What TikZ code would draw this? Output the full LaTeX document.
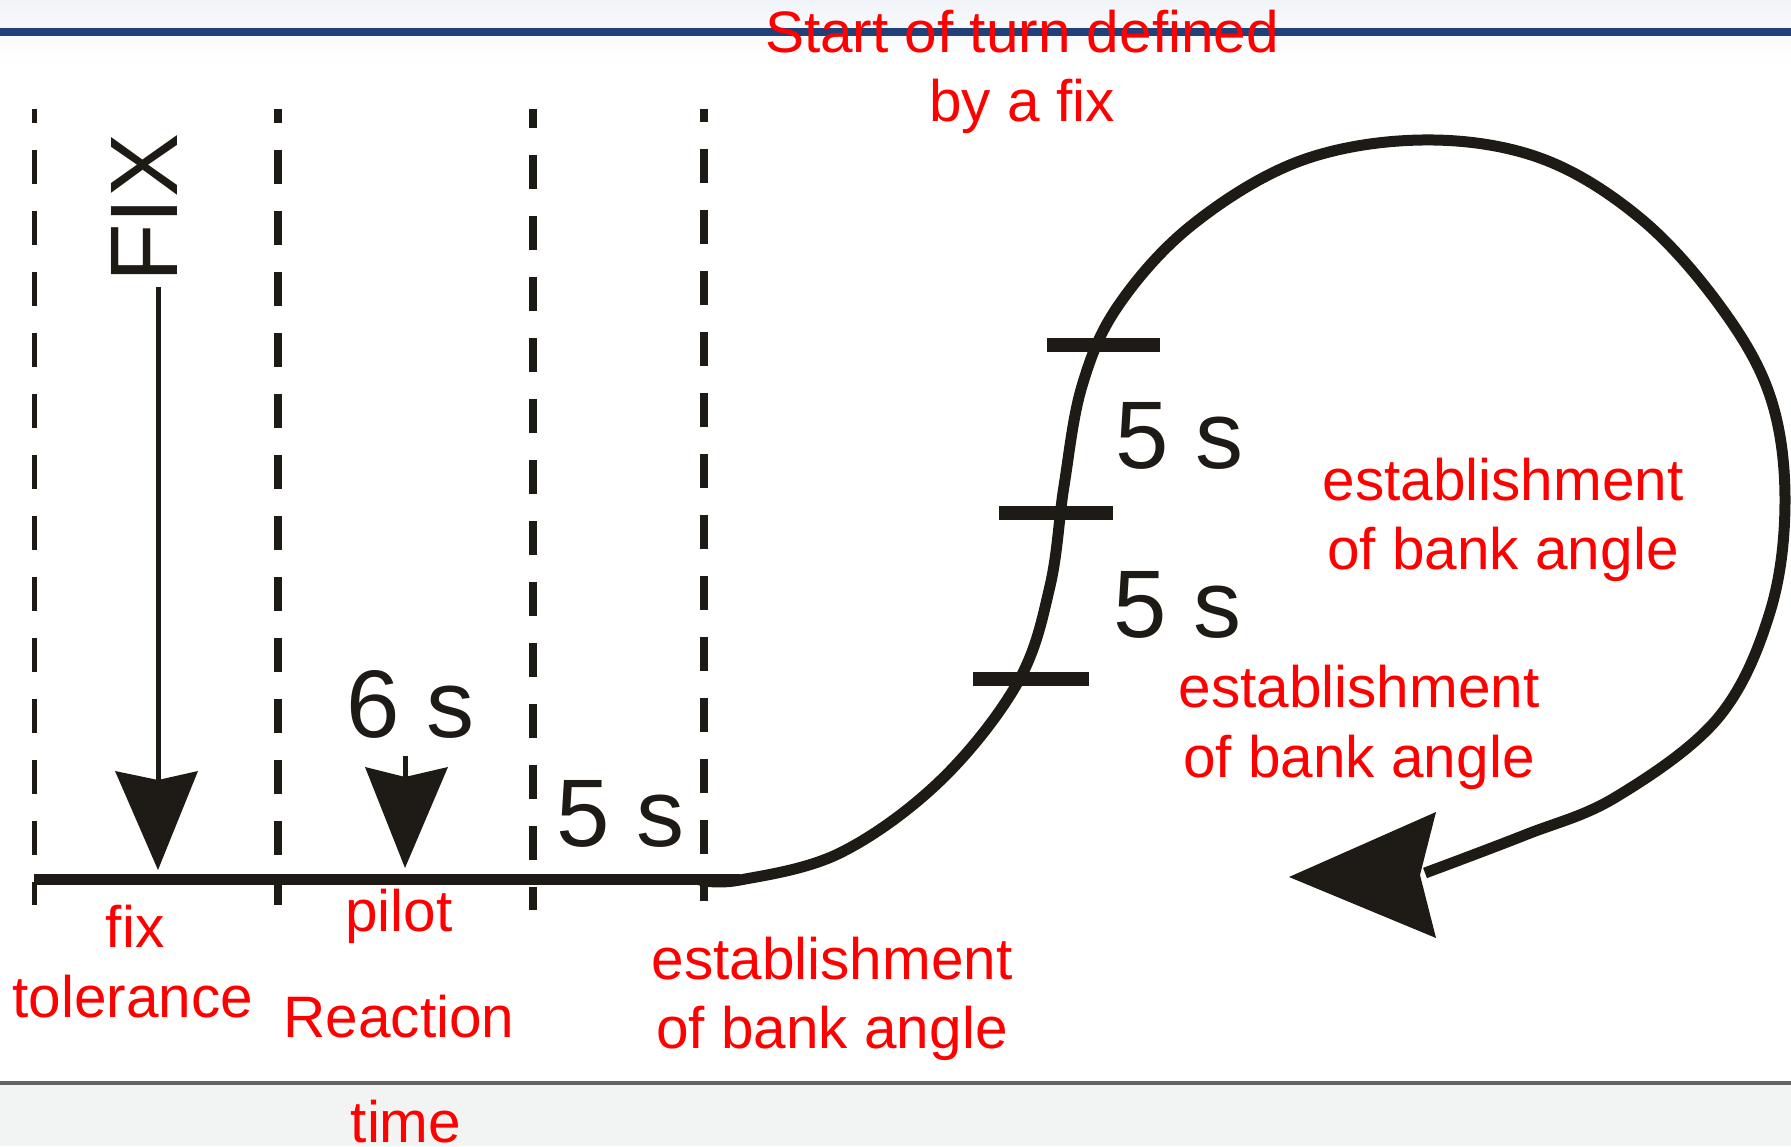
\documentclass[tikz,border=0pt]{standalone}
\usepackage{fontspec}
\setmainfont{Liberation Sans}
\begin{document}
\begin{tikzpicture}[x=1pt,y=1pt,
  inkline/.style={draw=inkColor,line width=11pt,line join=round},
  guide/.style={draw=inkColor,line width=8.5pt,dash pattern=on 34pt off 27pt},
  tickbar/.style={draw=inkColor,line width=14pt},
  headfill/.style={fill=inkColor,draw=none},
  redlabel/.style={text=labelColor,anchor=base,inner sep=0pt,outer sep=0pt,font=\fontsize{58.5}{70}\selectfont},
  timelabel/.style={text=inkColor,anchor=base,inner sep=0pt,outer sep=0pt,font=\fontsize{96}{110}\selectfont}]
\definecolor{inkColor}{RGB}{30,27,22}
\definecolor{labelColor}{RGB}{255,0,0}
\definecolor{barColor}{RGB}{31,64,122}
\definecolor{stripColor}{RGB}{241,244,248}
\definecolor{footColor}{RGB}{242,244,244}
\definecolor{footLine}{RGB}{100,100,100}
\path[use as bounding box,fill=white] (0,0) rectangle (1791,1146);

% page frame
\path[top color=stripColor,bottom color=white] (0,1080) rectangle (1791,1146);
\path[draw=barColor,line width=8pt] (0,1114) -- (1791,1114);
\path[fill=footColor] (0,0) rectangle (1791,63);
\path[draw=footLine,line width=4pt] (0,63) -- (1791,63);

% time marks
\path[guide,line width=5pt,dash phase=20pt] (34,1037) -- (34,241);
\path[guide,dash phase=20pt] (278,1037) -- (278,241);
\path[guide,dash phase=15pt] (533,1037) -- (533,236);
\path[guide,dash phase=21pt] (704,1037) -- (704,245);

% straight leg and turn
\path[inkline] (34,266) -- (740,266);
\path[inkline] plot[smooth,tension=0.6] coordinates {
  (700,266) (740,266) (840,293) (940,365) (1018,464) (1050,560)
  (1064,660) (1082,760) (1118,840) (1192,921) (1300,985) (1423,1006)
  (1540,988) (1640,928) (1720,840) (1770,750) (1785,646) (1770,534)
  (1718,428) (1616,349) (1525,311) (1425,273)};
\path[headfill] (1289,269) -- (1436,334) -- (1420,271) -- (1436,208) -- cycle;

\path[tickbar] (1047,801) -- (1160,801);
\path[tickbar] (999,633) -- (1113,633);
\path[tickbar] (973,467) -- (1089,467);

% fix arrow
\node[timelabel,rotate=90] (fixname) at (177,938) {FIX};
\coordinate (fixtop) at (158,859);
\coordinate (fixnotch) at (158,366);
\path[draw=inkColor,line width=5pt] (fixtop) -- (fixnotch);
\path[headfill] (158,276) -- (115,375) -- (fixnotch) -- (198,375) -- cycle;

% pilot arrow
\coordinate (pilottop) at (405,390);
\coordinate (pilotnotch) at (405,369);
\path[draw=inkColor,line width=5pt] (pilottop) -- (pilotnotch);
\path[headfill] (405,278) -- (365,379) -- (pilotnotch) -- (448,379) -- cycle;

% durations
\node[timelabel] (sixs) at (411,408) {6 s};
\node[timelabel] (fives) at (621,299) {5 s};
\node[timelabel] (fivesup) at (1180,677) {5 s};
\node[timelabel] (fiveslow) at (1178,508) {5 s};

% red notes
\node[redlabel] (start) at (1022,1093) {Start of turn defined};
\node[redlabel] (byfix) at (1022,1024) {by a fix};
\node[redlabel] (estup) at (1503,645) {establishment};
\node[redlabel] (bankup) at (1503,576) {of bank angle};
\node[redlabel] (estmid) at (1359,438) {establishment};
\node[redlabel] (bankmid) at (1359,368) {of bank angle};
\node[redlabel] (estlow) at (832,166) {establishment};
\node[redlabel] (banklow) at (832,97) {of bank angle};
\node[redlabel] (fixtol) at (135,198) {fix};
\node[redlabel] (tolerance) at (133,128) {tolerance};
\node[redlabel] (pilot) at (399,214) {pilot};
\node[redlabel] (reaction) at (399,108) {Reaction};
\node[redlabel] (time) at (406,4) {time};
\end{tikzpicture}
\end{document}
